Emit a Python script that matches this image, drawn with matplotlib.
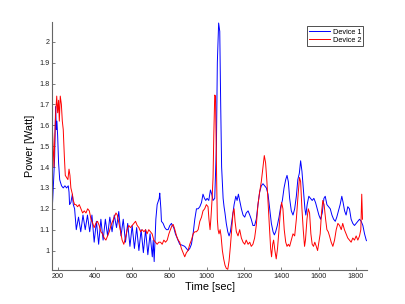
import matplotlib
matplotlib.use("Agg")
import matplotlib.pyplot as plt
from matplotlib.ticker import FormatStrFormatter

# Device 1 (blue) - time [sec] and power [Watt]
t1 = [171, 177, 184, 189, 193, 196, 200, 205, 211, 214, 221, 230, 239, 248, 257, 261, 264, 271, 279, 284, 291,
      300, 312, 324, 336, 348, 360, 372, 384, 396, 408, 420, 432, 444, 456, 468, 480, 492, 504, 516, 528,
      540, 552, 564, 576, 588, 600, 612, 624, 636, 648, 660, 672, 684, 696, 708, 713, 718,
      727, 734, 745, 748, 754, 757, 766, 775, 784, 793, 802, 811, 816, 823, 832, 841, 855, 870, 882, 891,
      900, 909, 918, 927, 936, 945, 954, 963, 972, 980, 988, 995, 1002, 1011, 1020, 1027, 1034, 1043,
      1052, 1057, 1064, 1070, 1075, 1080, 1088, 1093, 1098, 1105, 1113, 1120, 1127, 1136, 1147, 1156,
      1163, 1170, 1177, 1186, 1195, 1204, 1212, 1222, 1231, 1239, 1248, 1257, 1266, 1275, 1284, 1293,
      1302, 1311, 1320, 1329, 1338, 1347, 1356, 1363, 1370, 1379, 1388, 1397, 1406, 1415, 1424, 1431,
      1438, 1445, 1454, 1463, 1472, 1481, 1489, 1497, 1504, 1511, 1520, 1527, 1532, 1539, 1548, 1557,
      1566, 1575, 1584, 1593, 1602, 1611, 1620, 1629, 1636, 1645, 1654, 1663, 1672, 1681, 1690, 1698,
      1707, 1716, 1725, 1732, 1740, 1748, 1757, 1766, 1775, 1784, 1793, 1802, 1811, 1820, 1829, 1838,
      1847, 1856, 1862]
p1 = [1.20, 1.31, 1.45, 1.69, 1.58, 1.62, 1.55, 1.42, 1.34, 1.33, 1.31, 1.30, 1.31, 1.30, 1.31, 1.28, 1.22, 1.23, 1.27, 1.22, 1.20,
      1.10, 1.16, 1.09, 1.17, 1.10, 1.17, 1.09, 1.17, 1.04, 1.14, 1.03, 1.15, 1.05, 1.15, 1.07, 1.16, 1.09, 1.17, 1.11, 1.187,
      1.07, 1.15, 1.04, 1.13, 1.02, 1.12, 1.01, 1.11, 1.00, 1.10, 0.99, 1.10, 0.98, 1.08, 0.97, 1.05, 0.947,
      1.15, 1.22, 1.25, 1.275, 1.20, 1.14, 1.13, 1.11, 1.10, 1.10, 1.12, 1.13, 1.12, 1.11, 1.08, 1.06, 1.03, 1.025, 1.02, 1.01,
      1.00, 1.01, 1.03, 1.08, 1.15, 1.20, 1.20, 1.21, 1.23, 1.27, 1.25, 1.24, 1.25, 1.24, 1.29, 1.27, 1.24, 1.25,
      1.50, 1.90, 2.09, 2.05, 1.70, 1.40, 1.25, 1.21, 1.18, 1.13, 1.09, 1.07, 1.09, 1.15, 1.22, 1.26,
      1.24, 1.27, 1.24, 1.20, 1.17, 1.16, 1.18, 1.19, 1.17, 1.15, 1.12, 1.12, 1.15, 1.22, 1.28, 1.31,
      1.32, 1.31, 1.30, 1.27, 1.20, 1.13, 1.09, 1.075, 1.09, 1.12, 1.16, 1.21, 1.24, 1.30, 1.34, 1.36,
      1.33, 1.25, 1.19, 1.17, 1.20, 1.26, 1.34, 1.37, 1.43, 1.38, 1.28, 1.20, 1.17, 1.22, 1.26, 1.25,
      1.24, 1.25, 1.23, 1.20, 1.17, 1.15, 1.18, 1.25, 1.26, 1.22, 1.21, 1.20, 1.17, 1.15, 1.14, 1.16,
      1.19, 1.22, 1.26, 1.23, 1.19, 1.17, 1.21, 1.20, 1.15, 1.13, 1.12, 1.13, 1.14, 1.15, 1.14, 1.12,
      1.08, 1.05, 1.045]

# Device 2 (red)
t2 = [171, 176, 180, 185, 189, 195, 200, 205, 209, 214, 220, 225, 230, 236, 241, 248, 255, 261, 266, 271,
      279, 284, 291, 298, 307, 316, 325, 334, 343, 352, 361, 370, 379, 388, 396, 405, 414, 423, 432, 441,
      450, 459, 468, 477, 486, 495, 504, 513, 520, 529, 538, 546, 555, 564, 573, 582, 591, 600, 609, 618,
      627, 636, 645, 654, 663, 672, 680, 689, 698, 707, 716, 725, 734, 743, 752, 761, 770, 779, 788, 797,
      805, 814, 820, 829, 838, 847, 855, 864, 873, 882, 891, 900, 909, 918, 927, 936, 945, 954, 963, 972,
      980, 989, 998, 1007, 1012, 1018, 1023, 1029, 1034, 1038, 1043, 1047, 1050, 1054, 1057, 1061, 1066,
      1072, 1077, 1084, 1091, 1098, 1105, 1113, 1120, 1127, 1134, 1141, 1147, 1152, 1159, 1168, 1177,
      1186, 1195, 1204, 1212, 1222, 1231, 1239, 1248, 1257, 1266, 1275, 1284, 1293, 1302, 1309, 1316,
      1323, 1330, 1338, 1343, 1348, 1354, 1359, 1366, 1373, 1380, 1388, 1395, 1402, 1409, 1416, 1424,
      1431, 1438, 1445, 1454, 1463, 1472, 1481, 1489, 1498, 1504, 1511, 1518, 1525, 1530, 1538, 1545,
      1552, 1559, 1566, 1573, 1580, 1588, 1595, 1602, 1609, 1616, 1623, 1630, 1638, 1645, 1652, 1659,
      1668, 1677, 1686, 1695, 1704, 1713, 1722, 1730, 1739, 1748, 1757, 1766, 1775, 1784, 1793, 1802,
      1811, 1820, 1827, 1832, 1836]
p2 = [1.60, 1.50, 1.40, 1.55, 1.65, 1.74, 1.66, 1.72, 1.62, 1.74, 1.70, 1.62, 1.58, 1.45, 1.36, 1.35, 1.34, 1.39, 1.36, 1.30,
      1.27, 1.24, 1.22, 1.22, 1.21, 1.22, 1.20, 1.18, 1.19, 1.18, 1.20, 1.19, 1.15, 1.13, 1.11, 1.13, 1.14, 1.12, 1.09, 1.08,
      1.06, 1.05, 1.07, 1.09, 1.12, 1.14, 1.16, 1.18, 1.17, 1.13, 1.09, 1.05, 1.03, 1.06, 1.10, 1.12, 1.11, 1.12, 1.13, 1.14,
      1.12, 1.11, 1.09, 1.10, 1.09, 1.10, 1.08, 1.10, 1.09, 1.08, 1.05, 1.04, 1.03, 1.04, 1.04, 1.03, 1.05, 1.04, 1.05, 1.08,
      1.10, 1.12, 1.125, 1.10, 1.07, 1.05, 1.04, 1.01, 0.99, 0.97, 0.99, 1.00, 1.03, 1.05, 1.08, 1.09, 1.09, 1.10, 1.14, 1.16,
      1.19, 1.20, 1.22, 1.21, 1.15, 1.10, 1.16, 1.25, 1.35, 1.55, 1.745, 1.74, 1.55, 1.30, 1.15, 1.10, 1.08,
      1.10, 1.07, 1.00, 0.96, 0.93, 0.915, 0.91, 0.95, 1.02, 1.10, 1.18, 1.20, 1.14, 1.09, 1.07, 1.10,
      1.06, 1.04, 1.03, 1.05, 1.03, 1.04, 1.02, 1.03, 1.06, 1.12, 1.22, 1.28, 1.33, 1.40, 1.455, 1.42,
      1.33, 1.22, 1.10, 1.01, 0.97, 1.03, 1.05, 1.00, 0.96, 1.01, 1.10, 1.18, 1.23, 1.20, 1.10, 1.04,
      1.02, 1.03, 1.02, 1.05, 1.08, 1.07, 1.15, 1.25, 1.35, 1.33, 1.20, 1.10, 1.02, 1.05, 1.15, 1.20,
      1.18, 1.08, 1.03, 1.02, 1.04, 1.02, 1.00, 1.04, 1.08, 1.18, 1.24, 1.22, 1.15, 1.10, 1.09, 1.07,
      1.04, 1.02, 1.05, 1.10, 1.13, 1.12, 1.10, 1.13, 1.10, 1.08, 1.06, 1.05, 1.04, 1.06, 1.05, 1.07,
      1.05, 1.07, 1.10, 1.27, 1.15]

x_ticks = [200, 400, 600, 800, 1000, 1200, 1400, 1600, 1800]
y_ticks = [1.0, 1.1, 1.2, 1.3, 1.4, 1.5, 1.6, 1.7, 1.8, 1.9, 2.0]

plt.rcParams["font.family"] = ["Liberation Sans", "DejaVu Sans"]

fig = plt.figure(figsize=(4.05, 3.04), dpi=100)
ax = fig.add_axes([0.129, 0.112, 0.778, 0.815])

ax.plot(t1, p1, color="#0000ff", lw=0.7, label="Device 1")
ax.plot(t2, p2, color="#ff0000", lw=0.7, label="Device 2")

ax.set_xlim(171, 1862)
ax.set_ylim(0.907, 2.094)
ax.set_xticks(x_ticks)
ax.set_yticks(y_ticks)
ax.yaxis.set_major_formatter(FormatStrFormatter("%g"))

# matlab look: no box, ticks inside
ax.spines["top"].set_visible(False)
ax.spines["right"].set_visible(False)
for s in ("left", "bottom"):
    ax.spines[s].set_color("#666666")
    ax.spines[s].set_linewidth(0.8)
ax.tick_params(direction="in", length=2.5, width=0.6, color="#666666",
               labelsize=5.2, labelcolor="#222222", pad=2)

ax.set_xlabel("Time [sec]", fontsize=7.8, labelpad=1.5)
ax.set_ylabel("Power [Watt]", fontsize=7.8, labelpad=3)

leg = ax.legend(loc="upper right", fontsize=5.3, frameon=True, fancybox=False,
                handlelength=2.8, handletextpad=0.35, labelspacing=0.12,
                borderpad=0.3, borderaxespad=0.55)
leg.get_frame().set_edgecolor("black")
leg.get_frame().set_linewidth(0.6)

fig.savefig("out.png", dpi=100)
